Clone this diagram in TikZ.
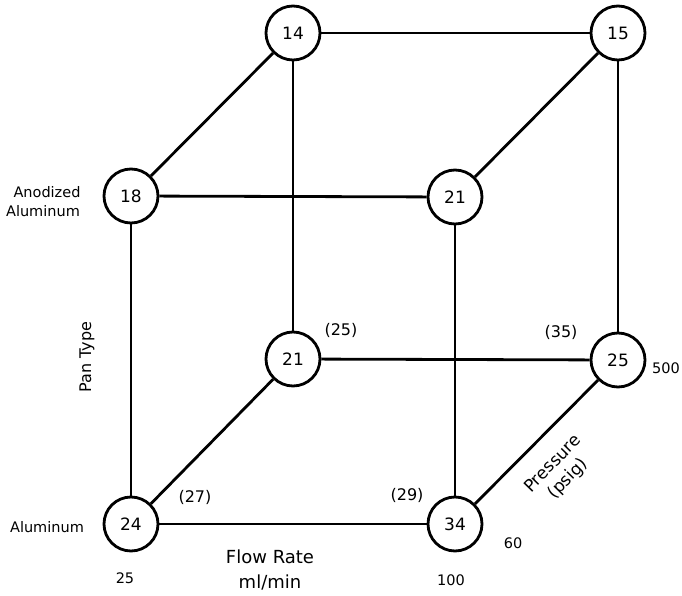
\documentclass[tikz,border=0pt]{standalone}
\usepackage{fontspec}
\setmainfont{DejaVu Sans}
\begin{document}
\begin{tikzpicture}[x=1pt,y=-1pt,
  val/.style={circle,draw,line width=2.8pt,minimum size=54pt,inner sep=0pt,font=\fontsize{17}{17}\selectfont,fill=white},
  edge/.style={line width=2.8pt},
  lbl/.style={font=\fontsize{14.5}{18}\selectfont,inner sep=0pt},
  plbl/.style={font=\fontsize{16}{18}\selectfont,inner sep=0pt}]
\useasboundingbox (0,0) rectangle (682,596);
\node[val] (n14) at (293,33) {14};
\node[val] (n15) at (618,33) {15};
\node[val] (n18) at (131,196) {18};
\node[val] (n21a) at (455,197) {21};
\node[val] (n21b) at (293,359) {21};
\node[val] (n25) at (618,360) {25};
\node[val] (n24) at (131,524) {24};
\node[val] (n34) at (455,524) {34};
\draw[edge] (n14) -- (n15);
\draw[edge] (n14) -- (n18);
\draw[edge] (n14) -- (n21b);
\draw[edge] (n15) -- (n21a);
\draw[edge] (n15) -- (n25);
\draw[edge] (n18) -- (n21a);
\draw[edge] (n18) -- (n24);
\draw[edge] (n21a) -- (n34);
\draw[edge] (n21b) -- (n25);
\draw[edge] (n21b) -- (n24);
\draw[edge] (n25) -- (n34);
\draw[edge] (n24) -- (n34);
\node[lbl] (anod1) at (47,192) {Anodized};
\node[lbl] (anod2) at (43,211) {Aluminum};
\node[lbl] (alu) at (47,527) {Aluminum};
\node[font=\fontsize{16}{18}\selectfont,inner sep=0pt,rotate=90] (pan) at (87,357) {Pan Type};
\node[plbl] (l25) at (341,330) {(25)};
\node[plbl] (l35) at (561,332) {(35)};
\node[plbl] (l27) at (195,497) {(27)};
\node[plbl] (l29) at (407,495) {(29)};
\node[lbl] (l500) at (666,368) {500};
\node[lbl] (l60) at (513,543) {60};
\node[lbl] (l25b) at (125,578) {25};
\node[lbl] (l100) at (451,580) {100};
\node[font=\fontsize{18}{20}\selectfont,inner sep=0pt] (flow) at (270,557) {Flow Rate};
\node[font=\fontsize{18}{20}\selectfont,inner sep=0pt] (mlmin) at (270,582) {ml/min};
\node[font=\fontsize{17}{19}\selectfont,inner sep=0pt,rotate=45.7] (press) at (552,463) {Pressure};
\node[font=\fontsize{17}{19}\selectfont,inner sep=0pt,rotate=45.7] (psig) at (568,479) {(psig)};
\end{tikzpicture}
\end{document}
